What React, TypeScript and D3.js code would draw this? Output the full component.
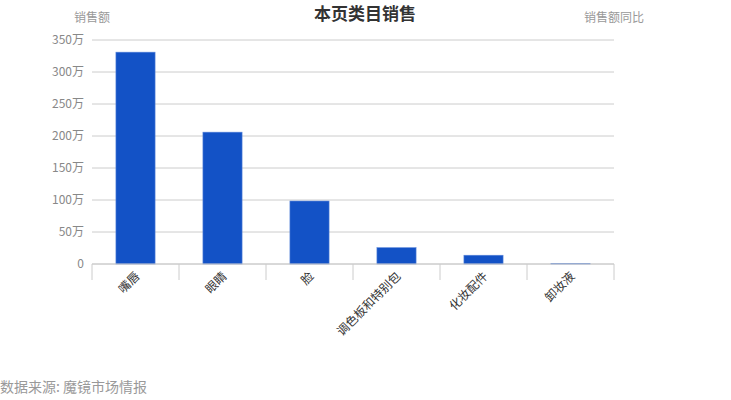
import React from "react";
import * as d3 from "d3";

const categories = ["嘴唇", "眼睛", "脸", "调色板和特别包", "化妆配件", "卸妆液"];
const sales = [3310000, 2060000, 984000, 255000, 137000, 8000];
const yTicks = [0, 500000, 1000000, 1500000, 2000000, 2500000, 3000000, 3500000];

const W = 731;
const H = 400;
const margin = { left: 92, right: 117, top: 40, bottom: 136 };
const FONT = "'Microsoft YaHei', 'Noto Sans CJK SC', sans-serif";

function fmt(v: number) {
  return v === 0 ? "0" : `${v / 10000}万`;
}

export default function App() {
  const x = d3
    .scaleBand<string>()
    .domain(categories)
    .range([margin.left, W - margin.right])
    .paddingInner(0)
    .paddingOuter(0);
  const y = d3
    .scaleLinear()
    .domain([0, 3500000])
    .range([H - margin.bottom, margin.top]);
  const bw = x.bandwidth() * 0.45;
  const y0 = y(0);

  return (
    <svg
      width={W}
      height={H}
      style={{ position: "absolute", left: 0, top: 0, background: "#fff" }}
      fontFamily={FONT}
    >
      <text x={365} y={20} textAnchor="middle" fontSize={17} fontWeight="bold" fill="#333">
        本页类目销售
      </text>
      <text x={92} y={22} textAnchor="middle" fontSize={12} fill="#999">
        销售额
      </text>
      <text x={614} y={22} textAnchor="middle" fontSize={12} fill="#999">
        销售额同比
      </text>
      {yTicks.map((t) => (
        <g key={t}>
          <line
            x1={margin.left}
            x2={W - margin.right}
            y1={y(t)}
            y2={y(t)}
            stroke="#ccc"
            strokeWidth={1}
          />
          <text x={84} y={y(t)} dy="0.35em" textAnchor="end" fontSize={12} fill="#888">
            {fmt(t)}
          </text>
        </g>
      ))}
      {categories.map((c, i) => {
        const cx = (x(c) as number) + x.bandwidth() / 2;
        return (
          <g key={c}>
            <rect
              x={cx - bw / 2}
              y={y(sales[i])}
              width={bw}
              height={y0 - y(sales[i])}
              fill="#1352c6"
              stroke="#5b86d9"
              strokeWidth={0.6}
            />
          </g>
        );
      })}
      <line x1={margin.left} x2={W - margin.right} y1={y0} y2={y0} stroke="#ccc" />
      {[...categories.map((c) => x(c) as number), W - margin.right].map((tx, i) => (
        <line key={i} x1={tx} x2={tx} y1={y0} y2={y0 + 16} stroke="#ccc" />
      ))}
      {categories.map((c) => {
        const cx = (x(c) as number) + x.bandwidth() / 2;
        return (
          <text
            key={c}
            transform={`translate(${cx + 2},${y0 + 10}) rotate(-45)`}
            textAnchor="end"
            dy="0.35em"
            fontSize={12}
            fill="#333"
          >
            {c}
          </text>
        );
      })}
      <text x={0} y={392} fontSize={14} fill="#999">
        数据来源: 魔镜市场情报
      </text>
    </svg>
  );
}
